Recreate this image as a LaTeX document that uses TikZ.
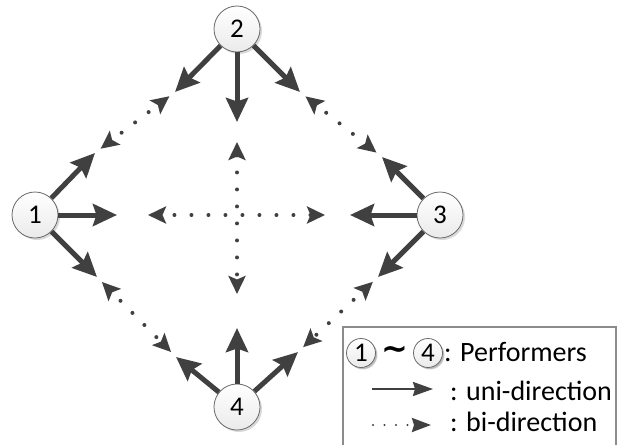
\documentclass[tikz,border=0pt]{standalone}
\usepackage{fontspec}
\setmainfont{Carlito}
\newfontfamily\tildefont{DejaVu Sans}
\usetikzlibrary{arrows.meta,shadows}
\definecolor{arr}{HTML}{404040}
\definecolor{ring}{HTML}{6A6A6A}
\definecolor{boxc}{HTML}{8C8C8C}
\tikzset{
  perf/.style={circle, draw=ring, line width=0.8pt, top color=white, bottom color=black!8,
    minimum size=46pt, inner sep=0pt, font=\fontsize{27}{27}\selectfont,
    drop shadow={shadow xshift=2pt, shadow yshift=-2pt, opacity=0.25, fill=black!60}},
  lcirc/.style={perf, minimum size=29pt, drop shadow={shadow xshift=1.5pt, shadow yshift=-1.5pt, opacity=0.25, fill=black!60}},
  uni/.style={draw=arr, line width=5pt, -{Stealth[length=24pt, width=22pt, inset=3.5pt]}},
  bi/.style={draw=arr, line width=4pt, line cap=round, dash pattern=on 0pt off 17pt, dash phase=4pt,
    shorten <=7pt, shorten >=7pt,
    {Stealth[length=18pt, width=17pt, inset=3.5pt]}-{Stealth[length=18pt, width=17pt, inset=3.5pt]}},
  unileg/.style={draw=arr, line width=2.2pt, -{Stealth[length=20pt, width=14pt, inset=2pt]}},
  bileg/.style={draw=arr, line width=2.4pt, line cap=round, dash pattern=on 0pt off 11.5pt, dash phase=0pt,
    -{Stealth[length=19pt, width=14pt, inset=2pt]}},
  lt/.style={inner sep=0pt, font=\fontsize{28}{28}\selectfont},
  boxline/.style={draw=boxc, line width=1.5pt},
}
\begin{document}
\begin{tikzpicture}[x=1pt, y=-1pt]
\useasboundingbox (0,0) rectangle (620,444);
% performers
\node[perf] (n1) at (35,215) {1};
\node[perf] (n2) at (237,29) {2};
\node[perf] (n3) at (440,215) {3};
\node[perf] (n4) at (237,407) {4};
% tips of the uni-directional arrows
\coordinate (t1a) at (95,153);
\coordinate (t1b) at (117,215);
\coordinate (t1c) at (97,277);
\coordinate (t2a) at (175,92);
\coordinate (t2b) at (237,122);
\coordinate (t2c) at (300,92);
\coordinate (t3a) at (382,157);
\coordinate (t3b) at (350,215);
\coordinate (t3c) at (378,277);
\coordinate (t4a) at (176,357);
\coordinate (t4b) at (237,328);
\coordinate (t4c) at (298,352);
% uni-directional arrows
\draw[uni] (n1) -- (t1a);
\draw[uni] (n1) -- (t1b);
\draw[uni] (n1) -- (t1c);
\draw[uni] (n2) -- (t2a);
\draw[uni] (n2) -- (t2b);
\draw[uni] (n2) -- (t2c);
\draw[uni] (n3) -- (t3a);
\draw[uni] (n3) -- (t3b);
\draw[uni] (n3) -- (t3c);
\draw[uni] (n4) -- (t4a);
\draw[uni] (n4) -- (t4b);
\draw[uni] (n4) -- (t4c);
% bi-directional arrows
\draw[bi] (t1a) -- (t2a);
\draw[bi] (t2c) -- (t3a);
\draw[bi] (t3c) -- (t4c);
\draw[bi] (t1c) -- (t4a);
\draw[bi, shorten <=31pt, shorten >=25pt] (t1b) -- (t3b);
\draw[bi, shorten <=20pt, shorten >=34pt, dash phase=0pt] (t2b) -- (t4b);
% legend
\draw[boxline] (343,446) -- (343,327) -- (616,327) -- (616,446);
\node[lcirc] (l1) at (361,353) {1};
\node[inner sep=0pt, font=\tildefont\fontsize{32}{32}\selectfont\bfseries] (tl) at (395,353) {\char"7E};
\node[lcirc] (l4) at (428,353) {4};
\node[lt, anchor=base west] (lp) at (444,361) {: Performers};
\coordinate (ua) at (372,389);
\coordinate (ub) at (433,389);
\draw[unileg] (ua) -- (ub);
\node[lt, anchor=base west] (lu) at (450,400) {: uni-direction};
\coordinate (ba) at (373,425);
\coordinate (bb) at (431,425);
\draw[bileg] (ba) -- (bb);
\node[lt, anchor=base west] (lb) at (450,431) {: bi-direction};
\end{tikzpicture}
\end{document}
